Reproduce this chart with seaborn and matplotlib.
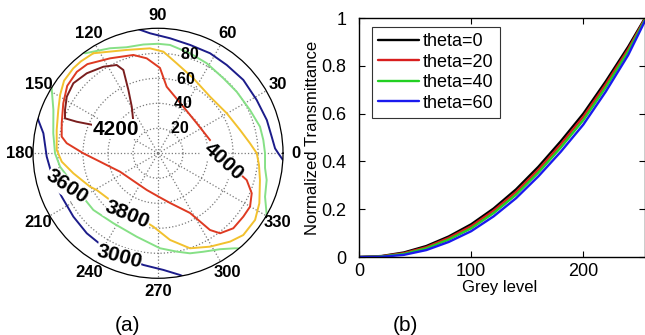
import numpy as np
import pandas as pd
import matplotlib.pyplot as plt
import seaborn as sns

# ---- (a) iso-contrast contours: angle in degrees, radius (viewing angle) 0-100
blue_top_theta = [99, 93.8, 84.0, 73.5, 62.5, 52.1, 40.7, 28.4, 17.0, 8.3, 2.4, 0, -3.1]
blue_top_r = [100.5, 96.2, 92.5, 90.4, 90.2, 89.5, 90.0, 89.7, 91.0, 91.9, 93.7, 96.2, 100.1]

blue_low_theta = [162.5, 164.5, 170.1, 181.7, 194.3, 204.3, 216.8, 228.3, 239.6, 249.2,
                  262.5, 272.6, 280.2, 282]
blue_low_r = [101, 99.4, 93.1, 89.1, 86.4, 84.5, 84.6, 85.7, 86.6, 87.5,
              90.1, 93.4, 98.9, 101]

green_top_theta = [127, 126.1, 114.6, 106.6, 97.7, 90, 83.7, 72.3, 61.6, 49.0, 38.0, 25.2,
                   14.6, 7.2, 0, -7.8, -13.8, -22.1, -29.6, -31]
green_top_r = [101, 99, 92.4, 88.5, 87.8, 87.6, 87.2, 84.0, 81.9, 79.6, 79.9, 81.3,
               84.3, 84.9, 85.6, 86.4, 89.5, 92.4, 100, 101]

green_low_theta = [147, 148.6, 157.5, 169.2, 180, 187.8, 196.9, 210, 221.2, 237.4, 255.7,
                   271.2, 280.8, 287.7, 294.7, 302.9, 309.0, 311]
green_low_r = [101, 99.7, 90.6, 85.3, 82.4, 79.1, 73.6, 69.6, 68.8, 66.4, 68.9,
               76.0, 80.1, 84.0, 86.7, 91.4, 97.8, 101]

yellow_theta = [122.9, 106.9, 94.4, 87.0, 78.3, 64.8, 47.4, 30.2, 15.9, 6.2, 0, -6.6, -14.7,
                -26.3, -34.5, -43.8, -50.8, -60.9, -71.4, -82.1, -93.7, -118.9, -135.8,
                -149.1, -153.8, -166.7, -175.0, -181.9, -193.0, -203.5, -210.8, -217.7,
                -225, -230, -237.1]
yellow_r = [95.3, 86.4, 84.2, 81.4, 73.5, 66.3, 61.5, 63.6, 68.2, 74.0, 79.0, 81.3, 84.3,
            90.4, 94.2, 94.5, 91.2, 85.5, 80.2, 70.0, 58.8, 51.8, 53.6,
            57.2, 60.6, 69.6, 77.3, 81.1, 83.2, 87.0, 91.2, 95.0,
            96.0, 96.0, 95.3]

red_theta = [-14.2, -16.8, -23.1, -30.1, -36.6, -44.9, -52.2, -55.9, -61.8, -76.4, -89.6,
             -107.1, -131.9, -154.2, -164.4, -171.8, -180, -186.3, -189.8, -197.3, -207.8,
             -216.6, -225.1, -231.6, -243.2, -255.9, -263.2, -271.3, -277.4, -298.5,
             -322.2, -345.7, -355.1]
red_r = [67.7, 74.1, 81.5, 85.1, 85.0, 85.0, 81.0, 74.1, 54.2, 40.9, 34.6,
         30.7, 29.6, 33.8, 39.9, 46.9, 59.8, 73.5, 78.2, 80.7, 85.7,
         90.5, 92.0, 91.0, 85.1, 81.1, 76.5, 68.3, 53.7, 42.4,
         39.2, 42.9, 47.1]

darkred_theta = [128.0, 119.4, 115.1, 112.6, 115.1, 122.3, 131.7, 140.4, 148.2, 155.0,
                 159.4, 158.8, 156.4, 154.8]
darkred_r = [32.1, 42.8, 55.9, 72.2, 78.0, 81.9, 85.7, 87.9, 85.9, 82.1,
             79.5, 69.8, 56.5, 51.3]

contour_texts = ['3600', '3800', '3000', '4000', '4200']
contour_text_theta = [200.1, 243.7, 249.3, -7.3, 150.3]
contour_text_r = [77.8, 55.1, 88.2, 52.7, 38.9]
contour_text_rot = [-34, -22, -15, -42, 0]

angle_ticks = list(range(0, 360, 30))
radial_ticks = [20, 40, 60, 80]

# ---- (b) gamma curves
grey = [0, 20, 40, 60, 80, 100, 120, 140, 160, 180, 200, 220, 240, 255]
t_theta0 = [0, 0.004, 0.019, 0.046, 0.086, 0.137, 0.203, 0.283, 0.378, 0.485, 0.600, 0.735, 0.880, 1.0]
t_theta20 = [0, 0.003, 0.016, 0.041, 0.080, 0.129, 0.194, 0.272, 0.366, 0.472, 0.587, 0.723, 0.870, 0.997]
t_theta40 = [0, 0.002, 0.013, 0.036, 0.073, 0.120, 0.184, 0.261, 0.354, 0.459, 0.573, 0.710, 0.860, 0.993]
t_theta60 = [0, 0.001, 0.009, 0.029, 0.063, 0.108, 0.170, 0.246, 0.338, 0.441, 0.554, 0.692, 0.845, 0.988]
curve_names = ['theta=0', 'theta=20', 'theta=40', 'theta=60']
curve_colors = ['#000000', '#d81e1e', '#22d022', '#1a1aee']

sns.set_theme(style='white')
plt.rcParams['font.family'] = ['Liberation Sans', 'DejaVu Sans']
plt.rcParams['text.color'] = 'black'
plt.rcParams['axes.labelcolor'] = 'black'
plt.rcParams['xtick.color'] = 'black'
plt.rcParams['ytick.color'] = 'black'

fig = plt.figure(figsize=(6.45, 3.35), dpi=100)

# polar panel
ax = fig.add_axes([0.0512, 0.1693, 0.3876, 0.7463], projection='polar')
lines = [
    (blue_top_theta, blue_top_r, '#1c1c8a'),
    (blue_low_theta, blue_low_r, '#1c1c8a'),
    (green_top_theta, green_top_r, '#86e086'),
    (green_low_theta, green_low_r, '#86e086'),
    (yellow_theta, yellow_r, '#f2c12e'),
    (red_theta, red_r, '#de3a22'),
    (darkred_theta, darkred_r, '#7a1e1e'),
]
for th, r, c in lines:
    sns.lineplot(x=np.deg2rad(th), y=r, ax=ax, sort=False, estimator=None,
                 color=c, linewidth=1.4)

ax.set_ylim(0, 100)
ax.set_yticks(radial_ticks)
ax.set_yticklabels([])
ax.set_xticks(np.deg2rad(angle_ticks))
ax.set_xticklabels([])
ax.set_xlabel('')
ax.set_ylabel('')
ax.grid(True, color='#7a7a7a', linestyle=':', linewidth=0.9)
ax.spines['polar'].set_edgecolor('black')
ax.spines['polar'].set_linewidth(0.9)

for a in angle_ticks:
    ax.text(np.deg2rad(a), 110.5, str(a), ha='center', va='center',
            fontsize=12, fontweight='bold', color='black')
for rt in radial_ticks:
    ax.text(np.deg2rad(82), rt, '  ' + str(rt), ha='left', va='center',
            fontsize=11.5, fontweight='bold', color='black')

for txt, th, r, rot in zip(contour_texts, contour_text_theta, contour_text_r, contour_text_rot):
    ax.text(np.deg2rad(th), r, txt, ha='center', va='center', rotation=rot,
            rotation_mode='anchor', fontsize=15, fontweight='bold', color='black',
            bbox=dict(facecolor='white', edgecolor='none', pad=0.2))

# gamma panel
ax2 = fig.add_axes([0.5566, 0.2328, 0.4434, 0.7134])
df = pd.DataFrame({
    'grey': grey * 4,
    'T': t_theta0 + t_theta20 + t_theta40 + t_theta60,
    'curve': np.repeat(curve_names, len(grey)),
})
sns.lineplot(data=df, x='grey', y='T', hue='curve',
             palette=dict(zip(curve_names, curve_colors)), linewidth=1.7, ax=ax2)

ax2.set_xlim(0, 255)
ax2.set_ylim(0, 1)
ax2.set_xticks([0, 100, 200])
ax2.set_yticks([0, 0.2, 0.4, 0.6, 0.8, 1])
ax2.set_yticklabels(['0', '0.2', '0.4', '0.6', '0.8', '1'])
ax2.tick_params(direction='in', bottom=True, left=True, top=True, right=True,
                length=4, width=0.8, color='black', labelsize=13)
ax2.tick_params(axis='y', pad=9)
ax2.tick_params(axis='x', pad=4.5)
for s in ax2.spines.values():
    s.set_color('black')
    s.set_linewidth(1.0)

ax2.set_xlabel('Grey level', fontsize=12)
ax2.set_ylabel('Normalized Transmittance', fontsize=12)
ax2.xaxis.set_label_coords(0.493, -0.126)
ax2.xaxis.label.set_va('center')
ax2.yaxis.set_label_coords(-0.161, 0.5)
ax2.yaxis.label.set_va('center')

handles, labels = ax2.get_legend_handles_labels()
leg = ax2.legend(handles, labels, loc='upper left', bbox_to_anchor=(0.044, 0.964),
                 borderaxespad=0, fontsize=13, frameon=True, fancybox=False,
                 edgecolor='#333333', framealpha=1, handlelength=2.3,
                 handletextpad=0.2, labelspacing=0.2, borderpad=0.35)
leg.get_frame().set_linewidth(0.8)

fig.text(127.5 / 645, 1 - 325.8 / 335, '(a)', ha='center', va='center', fontsize=15)
fig.text(405 / 645, 1 - 325.8 / 335, '(b)', ha='center', va='center', fontsize=15)

fig.savefig('out.png', dpi=100)
